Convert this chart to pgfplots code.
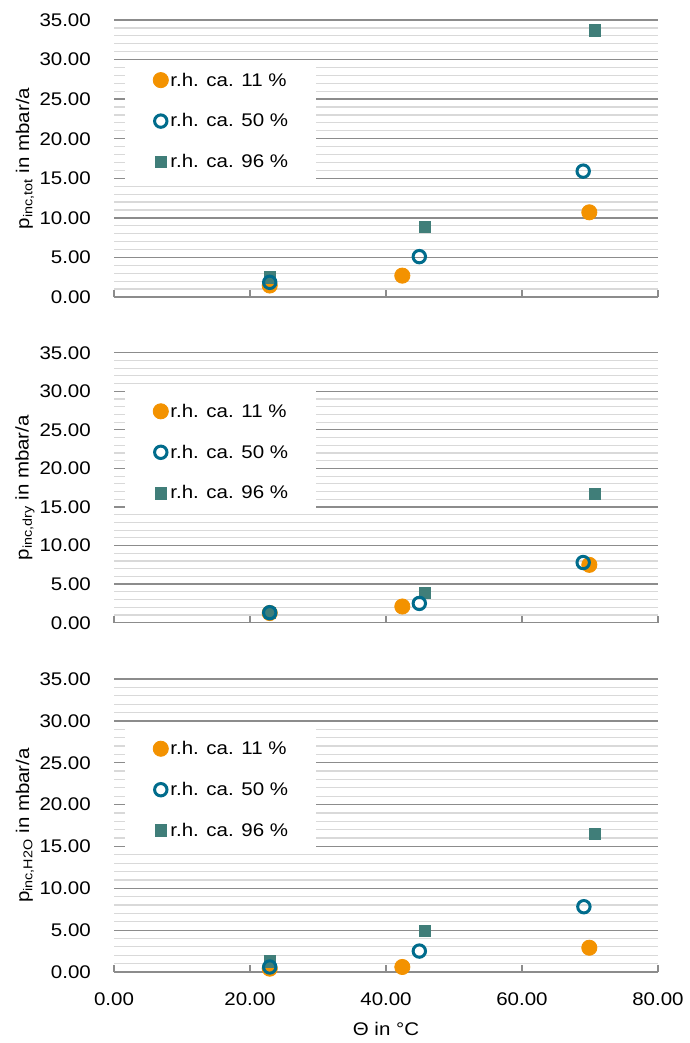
\documentclass[border=0pt]{standalone}
\usepackage{fontspec}
\setmainfont{Liberation Sans}[FakeStretch=1.12]
\usepackage{pgfplots}
\pgfplotsset{compat=1.18}

\definecolor{c11}{RGB}{243,146,0}
\definecolor{c50}{RGB}{0,108,140}
\definecolor{c96}{RGB}{64,126,121}
\definecolor{gmaj}{RGB}{140,140,140}
\definecolor{gmin}{RGB}{217,217,217}

\newcommand{\lbl}{\fontsize{18.3bp}{21bp}\selectfont}

\pgfplotsset{
  s11/.style={mark=*, mark size=7.6bp, draw=c11, fill=c11, line width=0.8bp},
  s50/.style={mark=o, mark size=6.2bp, draw=c50, line width=3bp},
  s96/.style={mark=square*, mark size=5.75bp, draw=c96, fill=c96, line width=0.5bp},
  panel/.style={
    scale only axis, width=544bp, anchor=north west,
    xmin=0, xmax=80, ymin=0, ymax=35,
    xtick={0,20,...,80}, ytick={0,5,...,35}, minor y tick num=4,
    ymajorgrids, yminorgrids,
    major grid style={gmaj, line width=1.3bp},
    minor grid style={gmin, line width=1.2bp},
    axis x line*=bottom, axis y line*=left,
    x axis line style={gmaj, line width=1.5bp},
    y axis line style={draw=none},
    ytick style={draw=none},
    xtick style={gmaj, line width=1.3bp},
    tick align=inside, major tick length=7bp,
    ticklabel style={font=\lbl, inner sep=0pt,
      /pgf/number format/fixed, /pgf/number format/fixed zerofill,
      /pgf/number format/precision=2, /pgf/number format/assume math mode=true},
    yticklabel style={xshift=-23bp},
    xticklabel style={yshift=-21bp},
    every axis y label/.style={at={(axis description cs:-0.1636,0.5)}, rotate=90, anchor=center, font=\lbl},
    every axis x label/.style={at={(axis description cs:0.5,0)}, anchor=center, yshift=-57bp, font=\lbl},
    legend cell align=left,
    legend image code/.code={\draw[##1] plot coordinates {(0bp,0bp)};},
    legend style={anchor=north west, draw=none, fill=white, font=\lbl,
      inner xsep=28bp, inner ysep=13bp, row sep=26bp, column sep=2bp,
      nodes={inner sep=0pt}},
  }
}

\begin{document}
\begin{tikzpicture}
\useasboundingbox (0,0) rectangle (690bp,-1043bp);

% total
\begin{axis}[panel, at={(114bp,-20bp)}, height=277bp, xticklabels={},
  ylabel={p\textsubscript{inc,tot} in mbar/a},
  legend style={at={(0.0202,0.858)}}]
\addlegendimage{s11}\addlegendentry{r.h. ca. 11 \%}
\addlegendimage{s50}\addlegendentry{r.h. ca. 50 \%}
\addlegendimage{s96}\addlegendentry{r.h. ca. 96 \%}
\addplot[only marks, s11, forget plot] coordinates {(22.9,1.45) (42.4,2.7) (69.9,10.7)};
\addplot[only marks, s96, forget plot] coordinates {(22.9,2.5) (45.7,8.9) (70.7,33.7)};
\addplot[only marks, s50, forget plot] coordinates {(22.9,1.85) (44.9,5.1) (69.0,15.9)};
\end{axis}

% dry
\begin{axis}[panel, at={(114bp,-352.7bp)}, height=270bp, xticklabels={},
  ylabel={p\textsubscript{inc,dry} in mbar/a},
  legend style={at={(0.0202,0.86)}}]
\addlegendimage{s11}\addlegendentry{r.h. ca. 11 \%}
\addlegendimage{s50}\addlegendentry{r.h. ca. 50 \%}
\addlegendimage{s96}\addlegendentry{r.h. ca. 96 \%}
\addplot[only marks, s11, forget plot] coordinates {(22.9,1.25) (42.4,2.1) (69.9,7.5)};
\addplot[only marks, s96, forget plot] coordinates {(22.9,1.3) (45.7,3.9) (70.7,16.7)};
\addplot[only marks, s50, forget plot] coordinates {(22.9,1.3) (44.9,2.5) (69.0,7.8)};
\end{axis}

% water
\begin{axis}[panel, at={(114bp,-679bp)}, height=293bp,
  ylabel={p\textsubscript{inc,H2O} in mbar/a}, xlabel={Θ in °C},
  legend style={at={(0.0202,0.833)}}]
\addlegendimage{s11}\addlegendentry{r.h. ca. 11 \%}
\addlegendimage{s50}\addlegendentry{r.h. ca. 50 \%}
\addlegendimage{s96}\addlegendentry{r.h. ca. 96 \%}
\addplot[only marks, s11, forget plot] coordinates {(22.9,0.4) (42.4,0.6) (69.9,2.9)};
\addplot[only marks, s96, forget plot] coordinates {(22.9,1.3) (45.7,4.9) (70.7,16.5)};
\addplot[only marks, s50, forget plot] coordinates {(22.9,0.6) (44.9,2.5) (69.1,7.8)};
\end{axis}
\end{tikzpicture}
\end{document}
